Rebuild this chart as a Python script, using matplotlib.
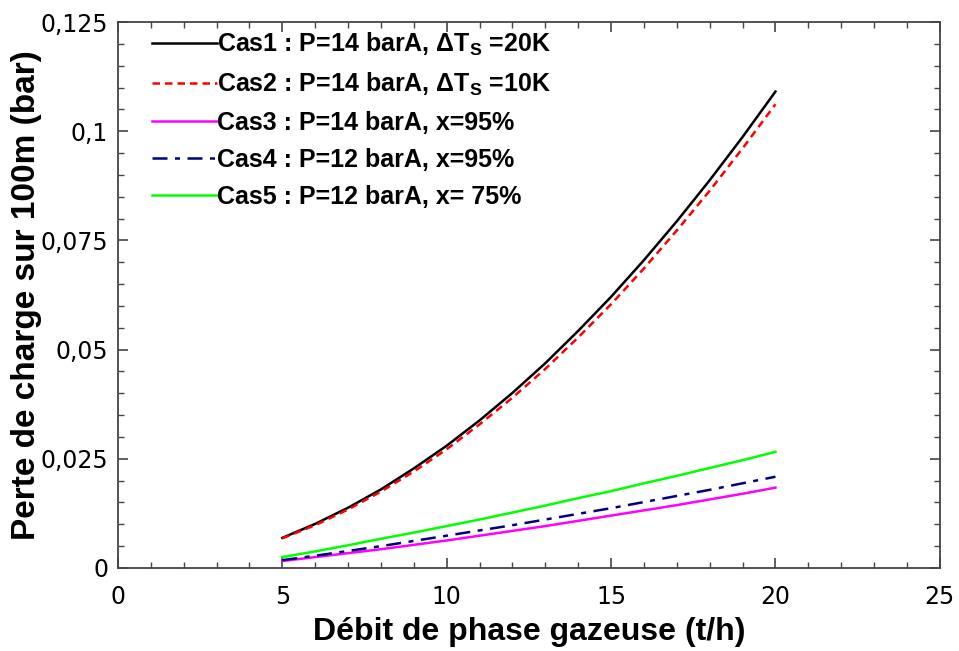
import matplotlib
matplotlib.use("Agg")
import matplotlib.pyplot as plt
from matplotlib.ticker import MultipleLocator, FuncFormatter

plt.rcParams['font.family'] = ['Liberation Sans', 'DejaVu Sans']
plt.rcParams['mathtext.fontset'] = 'custom'
plt.rcParams['mathtext.rm'] = 'Liberation Sans:bold'
plt.rcParams['mathtext.it'] = 'Liberation Sans:bold'
plt.rcParams['mathtext.bf'] = 'Liberation Sans:bold'

# gas flow rate (t/h)
debit = [5, 6, 7, 8, 9, 10, 11, 12, 13, 14, 15, 16, 17, 18, 19, 20]

# pressure loss over 100 m (bar)
cas1 = [0.0069, 0.0101, 0.0138, 0.0180, 0.0228, 0.0280, 0.0338, 0.0401,
        0.0469, 0.0543, 0.0621, 0.0705, 0.0794, 0.0888, 0.0987, 0.1091]
cas2 = [0.0068, 0.0098, 0.0134, 0.0175, 0.0221, 0.0272, 0.0329, 0.0390,
        0.0456, 0.0528, 0.0604, 0.0686, 0.0773, 0.0864, 0.0961, 0.1062]
cas3 = [0.0016, 0.0025, 0.0034, 0.0043, 0.0053, 0.0063, 0.0074, 0.0085,
        0.0096, 0.0108, 0.0120, 0.0132, 0.0144, 0.0157, 0.0170, 0.0184]
cas4 = [0.0018, 0.0028, 0.0039, 0.0050, 0.0062, 0.0074, 0.0086, 0.0098,
        0.0111, 0.0124, 0.0137, 0.0151, 0.0165, 0.0179, 0.0194, 0.0209]
cas5 = [0.0025, 0.0038, 0.0052, 0.0067, 0.0081, 0.0096, 0.0111, 0.0127,
        0.0143, 0.0160, 0.0176, 0.0194, 0.0211, 0.0229, 0.0247, 0.0266]

labels = [
    "Cas1 : P=14 barA, ΔT$_\\mathrm{S}$ =20K",
    "Cas2 : P=14 barA, ΔT$_\\mathrm{S}$ =10K",
    "Cas3 : P=14 barA, x=95%",
    "Cas4 : P=12 barA, x=95%",
    "Cas5 : P=12 barA, x= 75%",
]

fig = plt.figure(figsize=(9.59, 6.51), dpi=100)
ax = fig.add_axes([0.123, 0.1275, 0.857, 0.8385])

ax.plot(debit, cas1, color='black', lw=1.8, label=labels[0])
ax.plot(debit, cas2, color='#ff0000', lw=1.8, ls=(0, (3, 2)), label=labels[1])
ax.plot(debit, cas3, color='#ff00ff', lw=1.8, label=labels[2])
ax.plot(debit, cas4, color='#000080', lw=1.8, ls=(0, (6, 3, 2, 3)), label=labels[3])
ax.plot(debit, cas5, color='#00ff00', lw=1.8, label=labels[4])

ax.set_xlim(0, 25)
ax.set_ylim(0, 0.125)
ax.xaxis.set_major_locator(MultipleLocator(5))
ax.xaxis.set_minor_locator(MultipleLocator(1))
ax.yaxis.set_major_locator(MultipleLocator(0.025))
ax.yaxis.set_minor_locator(MultipleLocator(0.005))

fmt = FuncFormatter(lambda v, p: ('%g' % round(v, 4)).replace('.', ','))
ax.xaxis.set_major_formatter(fmt)
ax.yaxis.set_major_formatter(fmt)

ax.tick_params(which='both', direction='in', top=True, right=True,
               labelsize=17, color='#444444')
ax.tick_params(which='major', length=7, width=1.2)
ax.tick_params(which='minor', length=4, width=1)
ax.tick_params(axis='x', pad=12)
ax.tick_params(axis='y', pad=7)
for lab in ax.get_xticklabels() + ax.get_yticklabels():
    lab.set_family('DejaVu Sans')
for s in ax.spines.values():
    s.set_color('#444444')
    s.set_linewidth(1.3)

ax.set_xlabel("Débit de phase gazeuse (t/h)", fontsize=23, fontweight='bold',
              labelpad=6)
ax.set_ylabel("Perte de charge sur 100m (bar)", fontsize=24, fontweight='bold',
              labelpad=-1)

ax.legend(loc='upper left', bbox_to_anchor=(0.041, 0.985), frameon=False,
          handlelength=2.6, handletextpad=0.0, labelspacing=0.52,
          borderaxespad=0, borderpad=0,
          prop={'size': 18, 'weight': 'bold'})

fig.savefig("out.png", dpi=100)
